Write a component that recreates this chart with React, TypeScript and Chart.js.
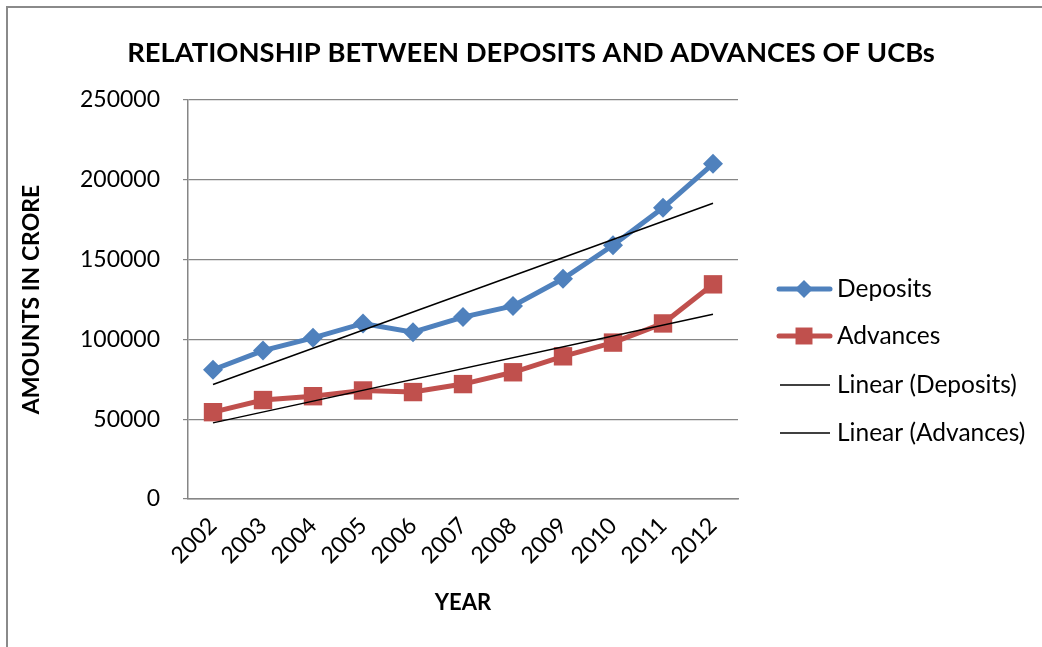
import React, { useEffect, useRef } from "react";
import { Chart, registerables } from "chart.js";

Chart.register(...registerables);

const years = ["2002", "2003", "2004", "2005", "2006", "2007", "2008", "2009", "2010", "2011", "2012"];
const deposits = [81000, 93000, 101000, 110000, 104500, 114000, 121000, 138000, 159000, 182500, 210000];
const advances = [54400, 62000, 64400, 68000, 67000, 72000, 79400, 89400, 98000, 110000, 134500];
// linear trend values at the first and last year
const depositsTrend = [71700, 185300];
const advancesTrend = [47700, 115800];
const yTicks = [0, 50000, 100000, 150000, 200000, 250000];

const TITLE = "RELATIONSHIP BETWEEN DEPOSITS AND ADVANCES OF UCBs";
const BLUE = "#4F81BD";
const RED = "#C0504D";
const GRID = "#868686";
const FONT = "Lato, 'Open Sans', sans-serif";

const framePlugin = {
  id: "frame",
  beforeDraw(chart: any) {
    const ctx = chart.ctx;
    ctx.save();
    ctx.fillStyle = "#ffffff";
    ctx.fillRect(0, 0, chart.width, chart.height);
    ctx.strokeStyle = "#8a8a8a";
    ctx.lineWidth = 2;
    ctx.beginPath();
    ctx.moveTo(7, 647);
    ctx.lineTo(7, 7);
    ctx.lineTo(1042, 7);
    ctx.stroke();
    ctx.restore();
  },
  afterDraw(chart: any) {
    const ctx = chart.ctx;
    ctx.save();
    ctx.fillStyle = "#000000";
    ctx.font = `bold 27.4px ${FONT}`;
    ctx.textAlign = "center";
    ctx.textBaseline = "middle";
    ctx.fillText(TITLE, 531, 53);
    ctx.restore();
  },
};

function drawMarker(ctx: CanvasRenderingContext2D, style: string, x: number, y: number, r: number) {
  ctx.beginPath();
  if (style === "rect") {
    const s = Math.SQRT1_2 * r;
    ctx.rect(x - s, y - s, 2 * s, 2 * s);
  } else {
    ctx.moveTo(x - r, y);
    ctx.lineTo(x, y - r);
    ctx.lineTo(x + r, y);
    ctx.lineTo(x, y + r);
    ctx.closePath();
  }
  ctx.fill();
}

const legendPlugin = {
  id: "customLegend",
  afterDraw(chart: any) {
    const ctx = chart.ctx;
    const rows = [289, 336, 385, 433];
    ctx.save();
    chart.data.datasets.forEach((ds: any, i: number) => {
      const y = rows[i];
      const isTrend = ds.pointRadius === 0;
      ctx.strokeStyle = ds.borderColor;
      ctx.lineWidth = ds.borderWidth;
      ctx.lineCap = isTrend ? "butt" : "round";
      ctx.beginPath();
      ctx.moveTo(isTrend ? 780 : 779, y);
      ctx.lineTo(830, y);
      ctx.stroke();
      if (!isTrend) {
        ctx.fillStyle = ds.pointBackgroundColor;
        drawMarker(ctx, ds.pointStyle, 804, y, ds.pointStyle === "rect" ? 12 : 9);
      }
      ctx.fillStyle = "#000000";
      ctx.font = `24.5px ${FONT}`;
      ctx.textBaseline = "middle";
      ctx.textAlign = "left";
      ctx.fillText(ds.label, 837, y);
    });
    ctx.restore();
  },
};

export default function App() {
  const ref = useRef<HTMLCanvasElement | null>(null);

  useEffect(() => {
    if (!ref.current) return;
    const chart = new Chart(ref.current, {
      type: "line",
      data: {
        labels: years,
        datasets: [
          {
            label: "Deposits",
            data: deposits,
            borderColor: BLUE,
            backgroundColor: BLUE,
            borderWidth: 5,
            pointStyle: "rectRot",
            pointRadius: 10,
            pointHoverRadius: 10,
            pointBackgroundColor: BLUE,
            pointBorderColor: BLUE,
            pointBorderWidth: 0,
            tension: 0,
            order: 2,
          },
          {
            label: "Advances",
            data: advances,
            borderColor: RED,
            backgroundColor: RED,
            borderWidth: 5,
            pointStyle: "rect",
            pointRadius: 13,
            pointHoverRadius: 13,
            pointBackgroundColor: RED,
            pointBorderColor: RED,
            pointBorderWidth: 0,
            tension: 0,
            order: 3,
          },
          {
            label: "Linear (Deposits)",
            data: [
              { x: years[0], y: depositsTrend[0] },
              { x: years[years.length - 1], y: depositsTrend[1] },
            ] as any,
            borderColor: "#000000",
            backgroundColor: "#000000",
            borderWidth: 1.5,
            pointRadius: 0,
            order: 0,
          },
          {
            label: "Linear (Advances)",
            data: [
              { x: years[0], y: advancesTrend[0] },
              { x: years[years.length - 1], y: advancesTrend[1] },
            ] as any,
            borderColor: "#000000",
            backgroundColor: "#000000",
            borderWidth: 1.5,
            pointRadius: 0,
            order: 1,
          },
        ],
      },
      options: {
        responsive: false,
        animation: false,
        events: [],
        layout: { padding: { top: 100, left: 0, right: 304, bottom: 0 } },
        plugins: {
          legend: { display: false },
          tooltip: { enabled: false },
          title: { display: false },
        },
        scales: {
          x: {
            type: "category",
            offset: true,
            grid: { display: false, drawTicks: false },
            border: { display: true, color: GRID, width: 1.5 },
            ticks: {
              color: "#000000",
              font: { family: FONT, size: 23 },
              minRotation: 45,
              maxRotation: 45,
              padding: 13,
              autoSkip: false,
            },
            title: {
              display: true,
              text: "YEAR",
              color: "#000000",
              font: { family: FONT, size: 22, weight: "bold", lineHeight: 1.2 },
              padding: { top: 0, bottom: 31 },
            },
            afterFit(scale: any) {
              scale.height = 148;
            },
          },
          y: {
            min: 0,
            max: 250000,
            grid: { color: GRID, lineWidth: 1.2, tickLength: 5, drawTicks: true },
            border: { display: true, color: GRID, width: 1.5 },
            ticks: {
              color: "#000000",
              font: { family: FONT, size: 23 },
              padding: 23,
              callback: (v: any) => String(v),
            },
            afterBuildTicks(scale: any) {
              scale.ticks = yTicks.map((v) => ({ value: v }));
            },
            title: {
              display: true,
              text: "AMOUNTS IN CRORE",
              color: "#000000",
              font: { family: FONT, size: 23, weight: "bold", lineHeight: 1.2 },
              padding: { top: 18, bottom: 0 },
            },
            afterFit(scale: any) {
              scale.width = 188;
            },
          },
        },
      },
      plugins: [framePlugin, legendPlugin],
    });
    return () => chart.destroy();
  }, []);

  return (
    <div style={{ position: "fixed", left: 0, top: 0, width: 1042, height: 647 }}>
      <canvas ref={ref} width={1042} height={647} style={{ display: "block" }} />
    </div>
  );
}
